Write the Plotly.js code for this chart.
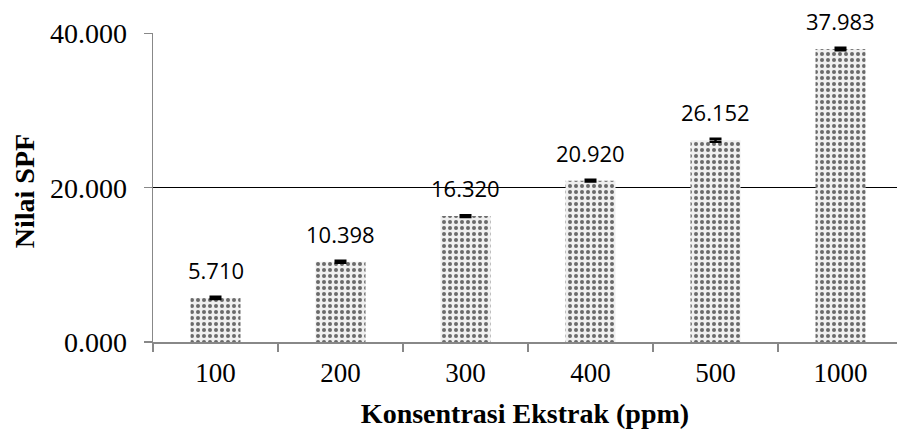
<!DOCTYPE html>
<html>
<head>
<meta charset="utf-8">
<script src="https://cdn.plot.ly/plotly-3.0.1.min.js"></script>
<style>html,body{margin:0;padding:0;background:#fff;}#chart{width:897px;height:432px;}</style>
</head>
<body>
<div id="chart"></div>
<script>
const categories = ['100', '200', '300', '400', '500', '1000'];
const spfValues = [5.710, 10.398, 16.320, 20.920, 26.152, 37.983];
const spfErrors = [0.15, 0.12, 0.12, 0.1, 0.2, 0.15];
const valueLabels = ['5.710', '10.398', '16.320', '20.920', '26.152', '37.983'];
const yTickVals = [0, 20, 40];
const yTickText = ['0.000', '20.000', '40.000'];
const xTitle = 'Konsentrasi Ekstrak (ppm)';
const yTitle = 'Nilai SPF';

const serif = "'Liberation Serif', 'Times New Roman', Times, serif";

const trace = {
  type: 'bar',
  x: categories,
  y: spfValues,
  width: 0.4,
  marker: {
    color: '#f4f4f4',
    line: {width: 0},
    pattern: {shape: '.', fgcolor: '#6a6a6a', bgcolor: '#efefef', size: 6, solidity: 0.35, fillmode: 'replace'}
  },
  error_y: {type: 'data', array: spfErrors, visible: true, color: '#000', thickness: 2.5, width: 6},
  hoverinfo: 'none'
};

const annotations = categories.map((c, i) => ({
  x: i, y: spfValues[i], xref: 'x', yref: 'y',
  text: valueLabels[i], showarrow: false, yanchor: 'bottom', yshift: 11,
  font: {family: 'Open Sans', size: 22, color: '#000'}
}));
annotations.push({
  xref: 'paper', yref: 'paper', x: -129 / 744, y: 0.488,
  xanchor: 'center', yanchor: 'middle', textangle: -90, showarrow: false,
  text: yTitle, font: {family: serif, size: 28, color: '#000', weight: 'bold'}
});

const layout = {
  width: 897, height: 432,
  margin: {l: 153, r: 0, t: 33, b: 90},
  paper_bgcolor: '#fff', plot_bgcolor: '#fff',
  showlegend: false,
  xaxis: {
    type: 'category',
    range: [-0.5, 5.452],
    showline: true, linecolor: '#888', linewidth: 1.5,
    ticks: 'outside', tickson: 'boundaries', ticklen: 8, tickcolor: '#888', tickwidth: 1.5,
    ticklabelstandoff: 6,
    showgrid: false,
    tickfont: {family: serif, size: 27, color: '#000'},
    title: {text: xTitle, font: {family: serif, size: 28, color: '#000', weight: 'bold'}, standoff: 16}
  },
  yaxis: {
    range: [0, 40.06],
    tickvals: yTickVals, ticktext: yTickText,
    showline: true, linecolor: '#888', linewidth: 1.5,
    ticks: 'outside', ticklen: 8, tickcolor: '#888', tickwidth: 1.5,
    ticklabelstandoff: 11,
    showgrid: true, gridcolor: '#000', gridwidth: 1.2,
    zeroline: false,
    tickfont: {family: serif, size: 28, color: '#000'}
  },
  annotations: annotations
};

Plotly.newPlot('chart', [trace], layout, {staticPlot: true, displayModeBar: false});
</script>
</body>
</html>
